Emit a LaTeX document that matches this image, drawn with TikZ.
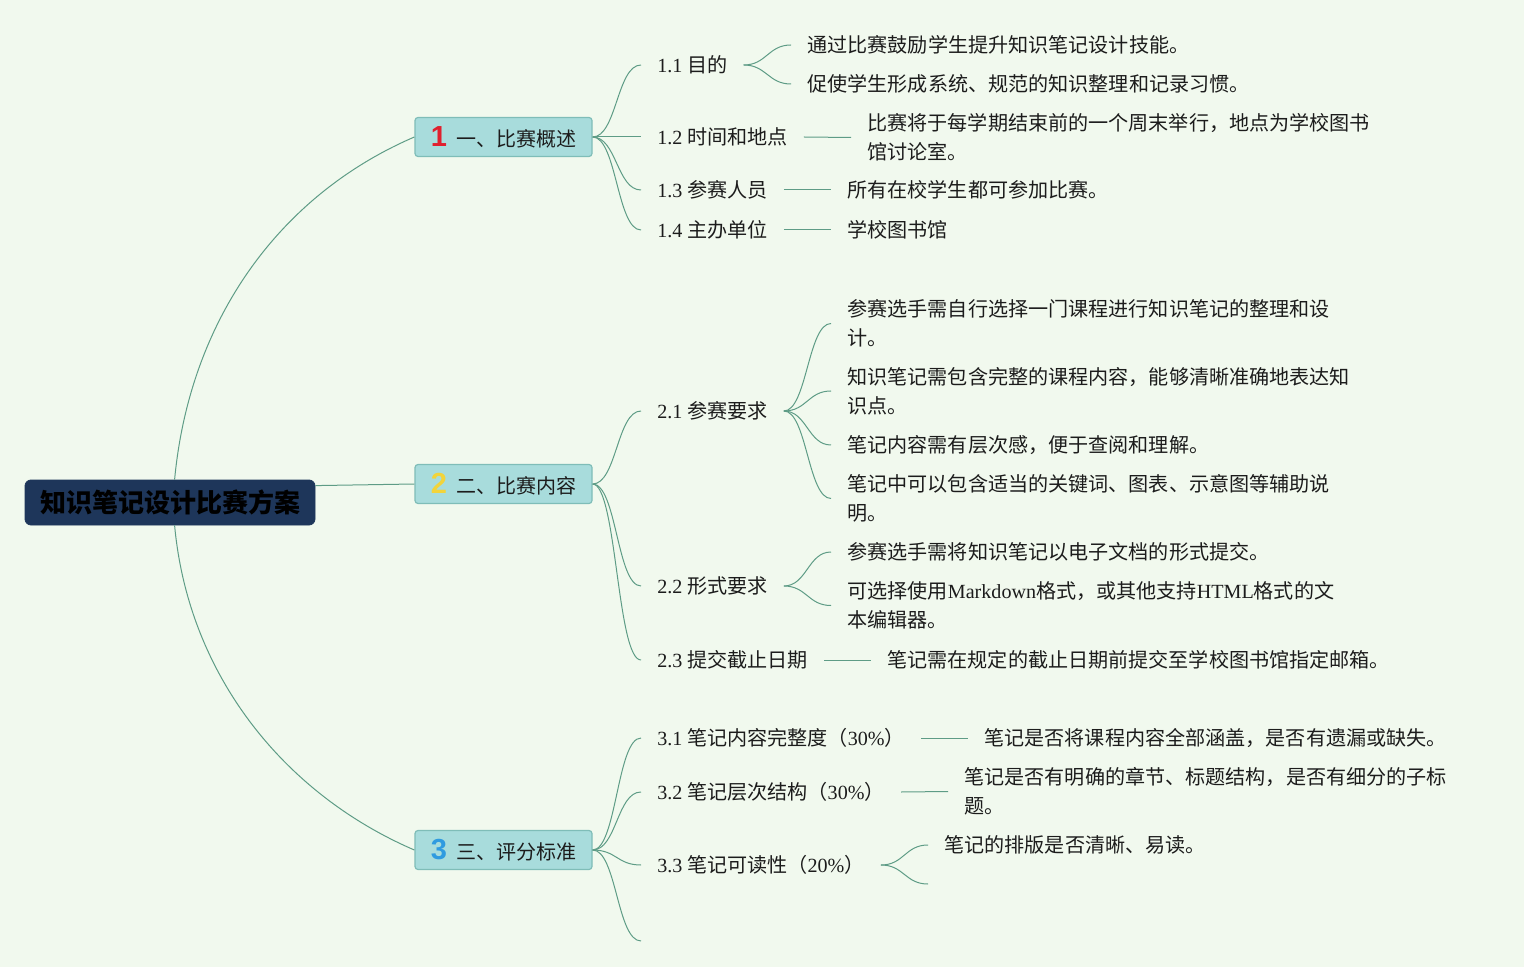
\documentclass[tikz,border=0pt]{standalone}
\usepackage{fontspec}
\setmainfont{Noto Sans CJK SC}
\newfontfamily\latfont{Liberation Serif}
\newfontfamily\numfont{Liberation Sans}
\newcommand\Ltn[1]{{\latfont #1}}
\usetikzlibrary{calc}
\definecolor{bgc}{HTML}{F1F9EE}
\definecolor{linec}{HTML}{5E9C86}
\definecolor{boxf}{HTML}{A8DCDC}
\definecolor{boxb}{HTML}{7FBDB8}
\definecolor{rootf}{HTML}{1E365A}
\definecolor{txt}{HTML}{1C1C1C}
\definecolor{numr}{HTML}{E0202E}
\definecolor{numy}{HTML}{F2D43A}
\definecolor{numb}{HTML}{2F9BE0}
\tikzset{
  conn/.style={draw=linec, line width=0.5pt},
  rootbox/.style={draw=rootf, fill=rootf, rounded corners=3pt, minimum width=145pt, minimum height=22.5pt, inner sep=0pt, text=black, font=\fontsize{13pt}{15pt}\selectfont\bfseries},
  lvlbox/.style={draw=boxb, fill=boxf, rounded corners=1.5pt, minimum width=88.5pt, minimum height=19.5pt, line width=0.6pt, inner sep=0pt, text=txt, font=\fontsize{10pt}{12pt}\selectfont},
  item/.style={anchor=west, inner xsep=8pt, inner ysep=0pt, align=left, text=txt, font=\fontsize{10.05pt}{14.5pt}\selectfont},
  fork/.style={conn},
}
\newcommand\bnum[2]{{\numfont\bfseries\fontsize{14.5pt}{15pt}\selectfont\color{#1}#2}\hspace{4.5pt}}
\begin{document}
\begin{tikzpicture}[x=0.5pt,y=-0.5pt]
\path[use as bounding box, fill=bgc] (0,0) rectangle (1524,967);

% root and first level
\node[rootbox] (root) at (170,502.5) {知识笔记设计比赛方案};
\node[lvlbox] (b1) at (503.5,137) {\bnum{numr}{1}一、比赛概述};
\node[lvlbox] (b2) at (503.5,484) {\bnum{numy}{2}二、比赛内容};
\node[lvlbox] (b3) at (503.5,850) {\bnum{numb}{3}三、评分标准};

\draw[conn] ($(root.north west)+(150,0)$) .. controls +(15,-160) and +(-135,58) .. (b1.west);
\draw[conn] ($(root.north east)+(0,6)$) -- (b2.west);
\draw[conn] ($(root.south west)+(150,0)$) .. controls +(14,152) and +(-128,-55) .. (b3.west);

% second level
\node[item] (t11) at (641,65) {\Ltn{1.1} 目的};
\node[item] (t12) at (641,137) {\Ltn{1.2} 时间和地点};
\node[item] (t13) at (641,190) {\Ltn{1.3} 参赛人员};
\node[item] (t14) at (641,230) {\Ltn{1.4} 主办单位};
\node[item] (t21) at (641,411) {\Ltn{2.1} 参赛要求};
\node[item] (t22) at (641,586) {\Ltn{2.2} 形式要求};
\node[item] (t23) at (641,660) {\Ltn{2.3} 提交截止日期};
\node[item] (t31) at (641,738) {\Ltn{3.1} 笔记内容完整度（\Ltn{30\%}）};
\node[item] (t32) at (641,792) {\Ltn{3.2} 笔记层次结构（\Ltn{30\%}）};
\node[item] (t33) at (641,865) {\Ltn{3.3} 笔记可读性（\Ltn{20\%}）};
\coordinate (e34) at (641,941);

\foreach \t in {t11,t12,t13,t14}
  \draw[conn] (b1.east) .. controls +(24,0) and +(-24,0) .. (\t.west);
\foreach \t in {t21,t22,t23}
  \draw[conn] (b2.east) .. controls +(24,0) and +(-24,0) .. (\t.west);
\foreach \t in {t31,t32,t33}
  \draw[conn] (b3.east) .. controls +(24,0) and +(-24,0) .. (\t.west);
\draw[conn] (b3.east) .. controls +(24,0) and +(-24,0) .. (e34);

% third level
\node[item] (t111) at (791,45) {通过比赛鼓励学生提升知识笔记设计技能。};
\node[item] (t112) at (791,84) {促使学生形成系统、规范的知识整理和记录习惯。};
\node[item] (t121) at (851,137.5) {比赛将于每学期结束前的一个周末举行，地点为学校图书\\馆讨论室。};
\node[item] (t131) at (831,190) {所有在校学生都可参加比赛。};
\node[item] (t141) at (831,230) {学校图书馆};

\node[item] (t211) at (831,323.5) {参赛选手需自行选择一门课程进行知识笔记的整理和设\\计。};
\node[item] (t212) at (831,391) {知识笔记需包含完整的课程内容，能够清晰准确地表达知\\识点。};
\node[item] (t213) at (831,445) {笔记内容需有层次感，便于查阅和理解。};
\node[item] (t214) at (831,498.5) {笔记中可以包含适当的关键词、图表、示意图等辅助说\\明。};
\node[item] (t221) at (831,552) {参赛选手需将知识笔记以电子文档的形式提交。};
\node[item] (t222) at (831,605.5) {可选择使用\Ltn{Markdown}格式，或其他支持\Ltn{HTML}格式的文\\本编辑器。};
\node[item] (t231) at (871,660) {笔记需在规定的截止日期前提交至学校图书馆指定邮箱。};

\node[item] (t311) at (968,738) {笔记是否将课程内容全部涵盖，是否有遗漏或缺失。};
\node[item] (t321) at (948,791.5) {笔记是否有明确的章节、标题结构，是否有细分的子标\\题。};
\node[item] (t331) at (928,845) {笔记的排版是否清晰、易读。};
\coordinate (e332) at (928,884);

\foreach \t in {t111,t112}
  \draw[fork] (t11.east) .. controls +(23,0) and +(-23,0) .. (\t.west);
\draw[conn] (t12.east) -- (t121.west);
\draw[conn] (t13.east) -- (t131.west);
\draw[conn] (t14.east) -- (t141.west);
\foreach \t in {t211,t212,t213,t214}
  \draw[fork] (t21.east) .. controls +(23,0) and +(-23,0) .. (\t.west);
\foreach \t in {t221,t222}
  \draw[fork] (t22.east) .. controls +(23,0) and +(-23,0) .. (\t.west);
\draw[conn] (t23.east) -- (t231.west);
\draw[conn] (t31.east) -- (t311.west);
\draw[conn] (t32.east) -- (t321.west);
\draw[fork] (t33.east) .. controls +(23,0) and +(-23,0) .. (t331.west);
\draw[fork] (t33.east) .. controls +(23,0) and +(-23,0) .. (e332);
\end{tikzpicture}
\end{document}
